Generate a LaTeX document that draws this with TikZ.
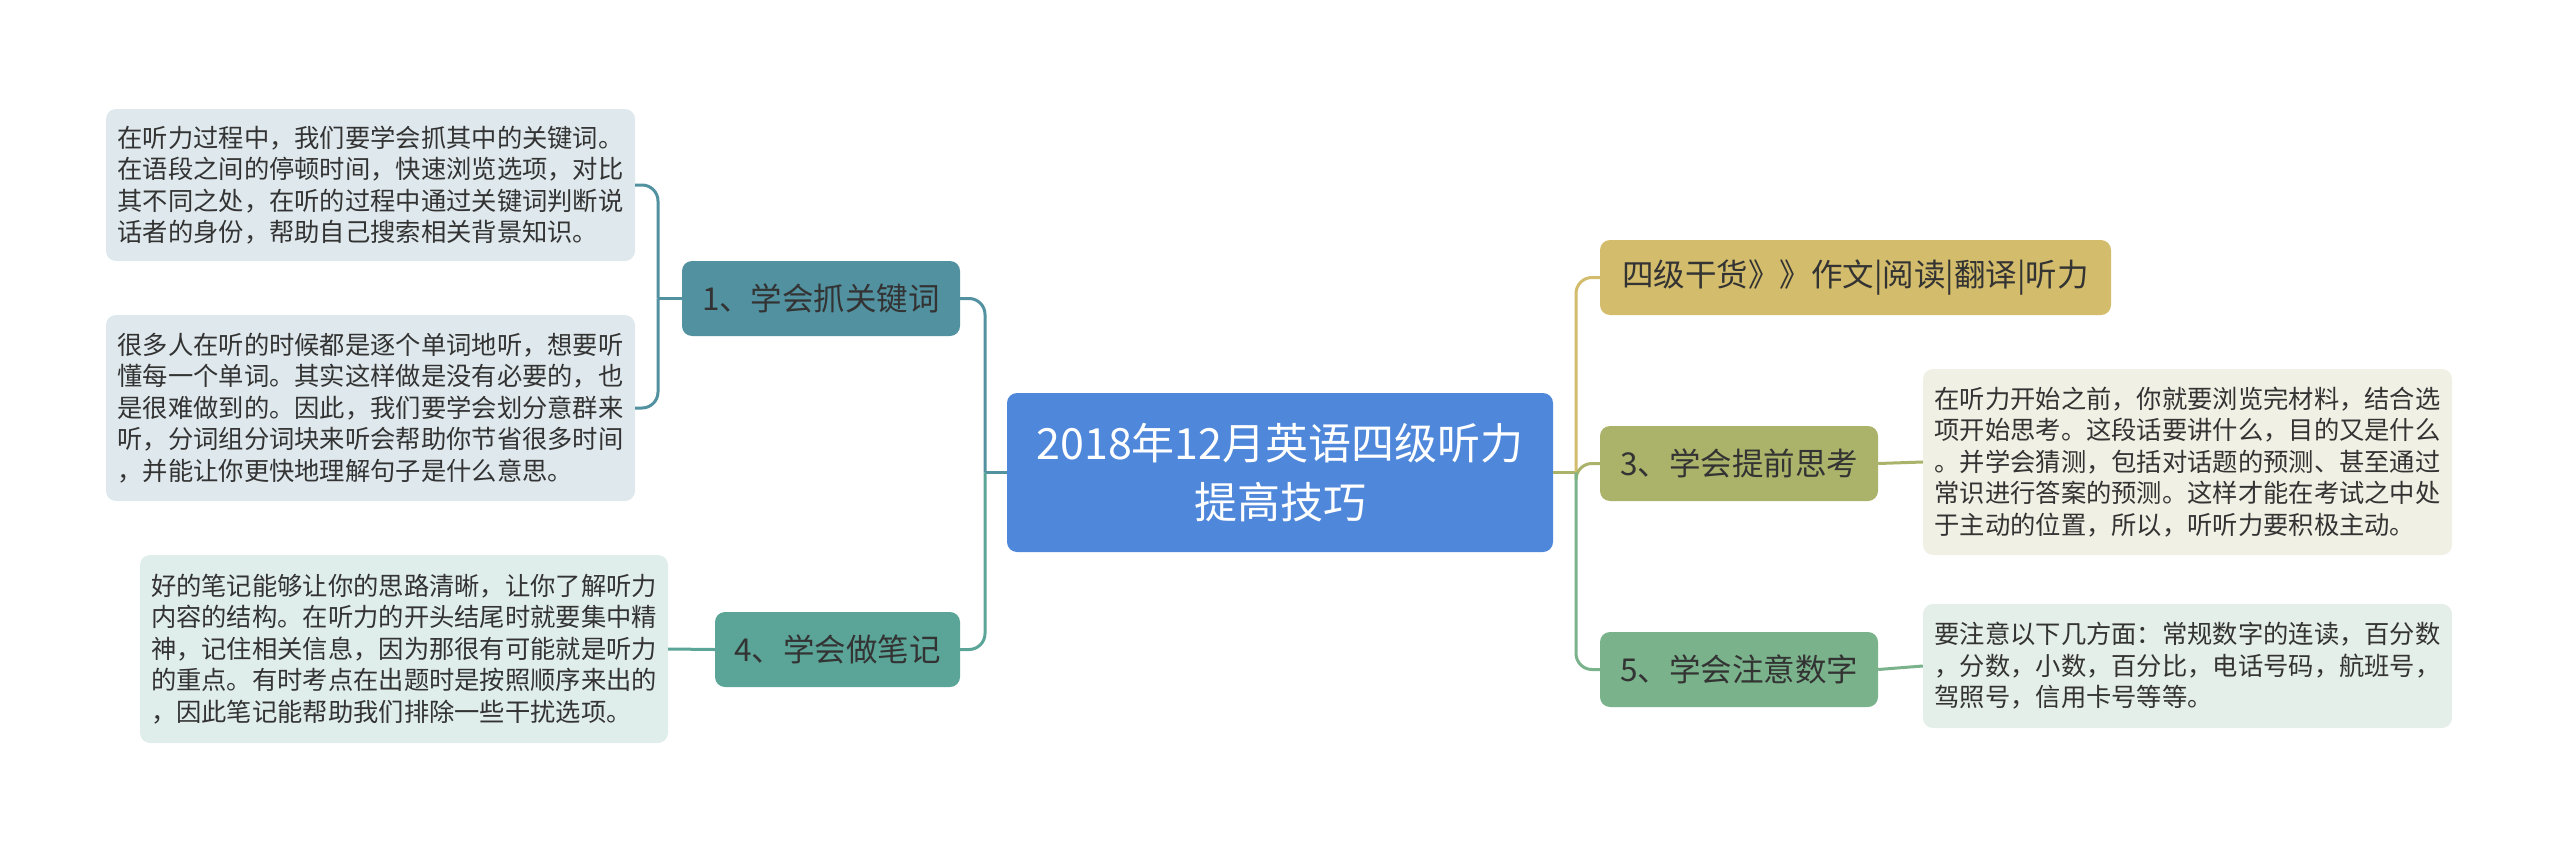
\documentclass[tikz,border=0pt]{standalone}
\usepackage{fontspec}
\setmainfont{Noto Sans CJK SC}
\definecolor{cmain}{HTML}{4F87DB}
\definecolor{cone}{HTML}{5291A0}
\definecolor{cfour}{HTML}{5AA598}
\definecolor{ctwo}{HTML}{D3BC6B}
\definecolor{cthree}{HTML}{ABB36A}
\definecolor{cfive}{HTML}{7AB38B}
\definecolor{lone}{HTML}{DFE9ED}
\definecolor{lfour}{HTML}{E0EEEB}
\definecolor{lthree}{HTML}{F0F0E4}
\definecolor{lfive}{HTML}{E5EFE9}
\definecolor{txt}{HTML}{333333}
\tikzset{
  root/.style={draw=none,fill=cmain,rounded corners=10pt,text=white,font=\fontsize{43}{59}\selectfont,align=center,inner sep=0pt},
  branch/.style={draw=none,rounded corners=10pt,text=txt,font=\fontsize{31.5}{36}\selectfont,inner sep=0pt,align=center},
  leaf/.style={draw=none,rounded corners=10pt,text=txt,font=\fontsize{25.3}{31.5}\selectfont,inner sep=0pt,align=left},
  link/.style={line width=3pt,rounded corners=16pt},
}
\begin{document}
\begin{tikzpicture}[x=1pt,y=-1pt]
\useasboundingbox (0,0) rectangle (2560,851);
\node[root,minimum width=546pt,minimum height=159pt] (c) at (1280,472.5) {2018年12月英语四级听力\\提高技巧};
\node[branch,fill=cone,minimum width=278pt,minimum height=75pt] (n1) at (821,298.5) {1、学会抓关键词};
\node[branch,fill=cfour,minimum width=245pt,minimum height=75pt] (n4) at (837.5,649.5) {4、学会做笔记};
\node[branch,fill=ctwo,minimum width=511pt,minimum height=75pt] (n2) at (1855.5,277.5) {四级干货》》作文|阅读|翻译|听力};
\node[branch,fill=cthree,minimum width=278pt,minimum height=75pt] (n3) at (1739,463.5) {3、学会提前思考};
\node[branch,fill=cfive,minimum width=278pt,minimum height=75pt] (n5) at (1739,669.5) {5、学会注意数字};
\node[leaf,fill=lone,minimum width=529pt,minimum height=152pt] (l1) at (370.5,185) {在听力过程中，我们要学会抓其中的关键词。\\在语段之间的停顿时间，快速浏览选项，对比\\其不同之处，在听的过程中通过关键词判断说\\话者的身份，帮助自己搜索相关背景知识。};
\node[leaf,fill=lone,minimum width=529pt,minimum height=186pt] (l2) at (370.5,408) {很多人在听的时候都是逐个单词地听，想要听\\懂每一个单词。其实这样做是没有必要的，也\\是很难做到的。因此，我们要学会划分意群来\\听，分词组分词块来听会帮助你节省很多时间\\，并能让你更快地理解句子是什么意思。};
\node[leaf,fill=lfour,minimum width=528pt,minimum height=188pt] (l4) at (404,649) {好的笔记能够让你的思路清晰，让你了解听力\\内容的结构。在听力的开头结尾时就要集中精\\神，记住相关信息，因为那很有可能就是听力\\的重点。有时考点在出题时是按照顺序来出的\\，因此笔记能帮助我们排除一些干扰选项。};
\node[leaf,fill=lthree,minimum width=529pt,minimum height=186pt] (r3) at (2187.5,462) {在听力开始之前，你就要浏览完材料，结合选\\项开始思考。这段话要讲什么，目的又是什么\\。并学会猜测，包括对话题的预测、甚至通过\\常识进行答案的预测。这样才能在考试之中处\\于主动的位置，所以，听听力要积极主动。};
\node[leaf,fill=lfive,minimum width=529pt,minimum height=124pt] (r5) at (2187.5,666) {要注意以下几方面：常规数字的连读，百分数\\，分数，小数，百分比，电话号码，航班号，\\驾照号，信用卡号等等。};
\coordinate (cl) at (985,472.5);
\coordinate (cr) at (1576,472.5);
\coordinate (j1) at (658,298.5);
\draw[link,cone] (c.west) -- (cl);
\draw[link,cone] (cl) |- (n1.east);
\draw[link,cfour] (cl) |- (n4.east);
\draw[link,cthree] (c.east) -- (cr);
\draw[link,ctwo] (cr) |- (n2.west);
\draw[link,cthree] (cr) |- (n3.west);
\draw[link,cfive] (cr) |- (n5.west);
\draw[link,cone] (n1.west) -- (j1);
\draw[link,cone] (j1) |- (l1.east);
\draw[link,cone] (j1) |- (l2.east);
\draw[link,cfour] (n4.west) -- (l4.east);
\draw[link,cthree] (n3.east) -- (r3.west);
\draw[link,cfive] (n5.east) -- (r5.west);
\end{tikzpicture}
\end{document}
